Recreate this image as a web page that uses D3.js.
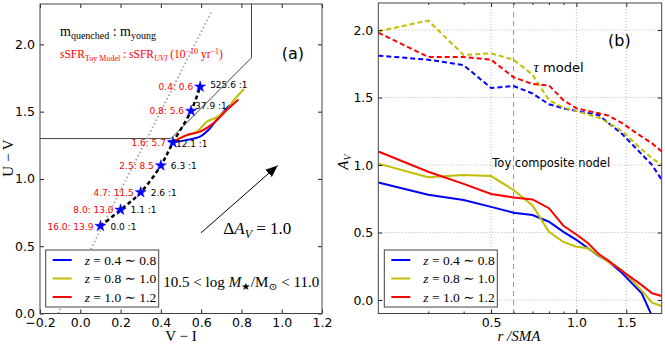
<!DOCTYPE html>
<html>
<head>
<meta charset="utf-8">
<script src="https://cdn.jsdelivr.net/npm/d3@7"></script>
<style>
  body { margin: 0; background: #fff; }
  svg { display: block; }
  .tick text { font-family: "DejaVu Sans", sans-serif; font-size: 12.5px; fill: #000; }
  .serif { font-family: "Liberation Serif", "DejaVu Serif", serif; }
  .sans { font-family: "DejaVu Sans", sans-serif; }
</style>
</head>
<body>
<div id="chart"></div>
<script>
// ---- panel (a) data: toy model track in the UVI plane
var viStar = [0.10, 0.20, 0.30, 0.40, 0.46, 0.55, 0.595];
var uvStar = [0.65, 0.77, 0.90, 1.10, 1.27, 1.505, 1.685];
var sfrText = ["16.0: 13.9", "8.0: 13.0", "4.7: 11.5", "2.5: 8.5", "1.6: 5.7", "0.8: 5.6", "0.4: 0.6"];
var ratioText = ["0.0 :1", "1.1 :1", "2.6 :1", "6.3 :1", "12.1 :1", "37.9 :1", "525.6 :1"];

// observed stacked tracks
var viBlue = [0.437, 0.475, 0.528, 0.594, 0.636, 0.677, 0.719, 0.743];
var uvBlue = [1.282, 1.276, 1.289, 1.314, 1.363, 1.438, 1.512, 1.549];
var viYellow = [0.454, 0.52, 0.578, 0.628, 0.677, 0.727, 0.76, 0.813];
var uvYellow = [1.276, 1.319, 1.351, 1.425, 1.458, 1.512, 1.581, 1.668];
var viRed = [0.454, 0.528, 0.594, 0.66, 0.727, 0.785];
var uvRed = [1.269, 1.326, 1.351, 1.413, 1.512, 1.591];

// quiescent selection box and the grey dotted line
var boxVI = [-0.2, 0.45, 0.85, 0.85];
var boxUV = [1.3, 1.3, 1.9, 2.3];
var dotVI = [-0.11, 0.65];
var dotUV = [0.0, 2.24];
// dust vector
var arrowVI = [0.6, 0.98];
var arrowUV = [0.6, 1.1];

// ---- panel (b) data: A_V profiles
var rSMA = [0.2, 0.3, 0.4, 0.5, 0.6, 0.7, 0.8, 0.9, 1.0, 1.1, 1.2, 1.3, 1.45, 1.7, 1.85, 2.0];
var tauBlue   = [1.81, 1.78, 1.74, 1.57, 1.585, 1.53, 1.45, 1.42, 1.40, 1.385, 1.37, 1.31, 1.23, 1.08, 1.0, 0.89];
var tauYellow = [1.99, 2.07, 1.815, 1.827, 1.78, 1.67, 1.48, 1.425, 1.40, 1.375, 1.35, 1.31, 1.25, 1.115, 1.05, 1.0];
var tauRed    = [1.98, 1.80, 1.80, 1.78, 1.65, 1.60, 1.59, 1.48, 1.42, 1.40, 1.383, 1.365, 1.31, 1.21, 1.16, 1.10];
var toyBlue   = [0.87, 0.78, 0.74, 0.69, 0.647, 0.63, 0.58, 0.505, 0.445, 0.383, 0.326, 0.284, 0.2, 0.05, -0.12, -0.3];
var toyYellow = [1.01, 0.91, 0.925, 0.918, 0.815, 0.70, 0.505, 0.43, 0.395, 0.383, 0.33, 0.28, 0.22, 0.07, -0.02, -0.045];
var toyRed    = [1.10, 0.95, 0.86, 0.785, 0.76, 0.745, 0.68, 0.55, 0.485, 0.42, 0.34, 0.29, 0.215, 0.11, 0.05, 0.03];
var psfR = 0.6;

var zBins = ["0.4", "0.8", "0.8", "1.0", "1.0", "1.2"];
var colors = ["#0000ff", "#bfbf00", "#ff0000"];

var W = 665, H = 347;
var svg = d3.select("#chart").append("svg").attr("width", W).attr("height", H);

function zip(a, b) { return a.map(function(v, i) { return [v, b[i]]; }); }

// ---------------- panel (a) ----------------
var xA = d3.scaleLinear().domain([-0.2, 1.2]).range([40, 322]);
var yA = d3.scaleLinear().domain([0, 2.3]).range([313.5, 4]);
var lineA = d3.line().x(function(d) { return xA(d[0]); }).y(function(d) { return yA(d[1]); });

svg.append("clipPath").attr("id", "clipA").append("rect")
  .attr("x", 40).attr("y", 4).attr("width", 282).attr("height", 309.5);
var gA = svg.append("g").attr("clip-path", "url(#clipA)");

gA.append("path").attr("d", lineA(zip(boxVI, boxUV)))
  .attr("fill", "none").attr("stroke", "#444").attr("stroke-width", 1);
gA.append("path").attr("d", lineA(zip(dotVI, dotUV)))
  .attr("fill", "none").attr("stroke", "#aaa").attr("stroke-width", 2).attr("stroke-dasharray", "1.5,2.5");

[[viBlue, uvBlue], [viYellow, uvYellow], [viRed, uvRed]].forEach(function(s, i) {
  gA.append("path").attr("d", lineA.curve(d3.curveCatmullRom)(zip(s[0], s[1])))
    .attr("fill", "none").attr("stroke", colors[i]).attr("stroke-width", 2);
});

gA.append("path").attr("d", lineA.curve(d3.curveCatmullRom)(zip(viStar, uvStar)))
  .attr("fill", "none").attr("stroke", "#000").attr("stroke-width", 2.5).attr("stroke-dasharray", "4,3");
lineA.curve(d3.curveLinear);

gA.selectAll(".star").data(zip(viStar, uvStar)).enter().append("path")
  .attr("class", "star")
  .attr("transform", function(d) { return "translate(" + xA(d[0]) + "," + yA(d[1]) + ")"; })
  .attr("d", d3.symbol(d3.symbolStar, 38))
  .attr("fill", "#0000ff").attr("stroke", "#0000ff").attr("stroke-width", 0.5);

var ratioDx = [10, 10, 10, 10, 3, 4, 10];
var ratioDy = [0, 0, 0, 0, 1, -5, -2];
gA.selectAll(".sfr").data(sfrText).enter().append("text")
  .attr("class", "sans")
  .attr("x", function(d, i) { return xA(viStar[i]) - 7; })
  .attr("y", function(d, i) { return yA(uvStar[i]) + 3.5; })
  .attr("text-anchor", "end").attr("font-size", 9).attr("fill", "#ff0000")
  .text(function(d) { return d; });
gA.selectAll(".ratio").data(ratioText).enter().append("text")
  .attr("class", "sans")
  .attr("x", function(d, i) { return xA(viStar[i]) + ratioDx[i]; })
  .attr("y", function(d, i) { return yA(uvStar[i]) + 3.5 + ratioDy[i]; })
  .attr("font-size", 9).attr("fill", "#000")
  .text(function(d) { return d; });

// dust arrow
svg.append("defs").append("marker").attr("id", "head")
  .attr("viewBox", "0 0 10 10").attr("refX", 10).attr("refY", 5)
  .attr("markerWidth", 12).attr("markerHeight", 12).attr("markerUnits", "userSpaceOnUse")
  .attr("orient", "auto")
  .append("path").attr("d", "M0,1 L10,5 L0,9 Z").attr("fill", "#000");
gA.append("path").attr("d", lineA(zip(arrowVI, arrowUV)))
  .attr("stroke", "#000").attr("stroke-width", 1).attr("marker-end", "url(#head)");

var tDust = svg.append("text").attr("class", "serif").attr("x", xA(0.71)).attr("y", yA(0.59)).attr("font-size", 17);
tDust.append("tspan").text("Δ");
tDust.append("tspan").attr("font-style", "italic").text("A");
tDust.append("tspan").attr("font-style", "italic").attr("font-size", 12).attr("dy", 4).text("V");
tDust.append("tspan").attr("dy", -4).text(" = 1.0");

var tMass = svg.append("text").attr("class", "serif").attr("x", xA(0.412)).attr("y", yA(0.197)).attr("font-size", 14)
  .attr("textLength", 156).attr("lengthAdjust", "spacingAndGlyphs");
tMass.append("tspan").text("10.5 < log ");
tMass.append("tspan").attr("font-style", "italic").text("M");
tMass.append("tspan").attr("font-size", 10).attr("dy", 3).text("★");
tMass.append("tspan").attr("dy", -3).text("/M");
tMass.append("tspan").attr("font-size", 10).attr("dy", 3).text("⊙");
tMass.append("tspan").attr("dy", -3).text(" < 11.0");

svg.append("text").attr("class", "sans").attr("x", xA(1.0)).attr("y", yA(1.89)).attr("font-size", 16).text("(a)");

var tQ = svg.append("text").attr("class", "serif").attr("x", 60).attr("y", 36).attr("font-size", 14);
tQ.append("tspan").text("m");
tQ.append("tspan").attr("font-size", 10).attr("dy", 3).text("quenched");
tQ.append("tspan").attr("dy", -3).text(" : m");
tQ.append("tspan").attr("font-size", 10).attr("dy", 3).text("young");

var tS = svg.append("text").attr("class", "serif").attr("x", 60).attr("y", 58).attr("font-size", 11.5).attr("fill", "#ff0000");
tS.append("tspan").text("sSFR");
tS.append("tspan").attr("font-size", 8).attr("dy", 2.5).text("Toy Model");
tS.append("tspan").attr("dy", -2.5).text(" : sSFR");
tS.append("tspan").attr("font-size", 8).attr("font-style", "italic").attr("dy", 2.5).text("UVI");
tS.append("tspan").attr("dy", -2.5).text(" (10");
tS.append("tspan").attr("font-size", 8).attr("dy", -4).text("−10");
tS.append("tspan").attr("dy", 4).text(" yr");
tS.append("tspan").attr("font-size", 8).attr("dy", -4).text("−1");
tS.append("tspan").attr("dy", 4).text(")");

// axes a
function drawAxes(x, y, xt, yt, fmtX, minorX) {
  var x0 = x.range()[0], x1 = x.range()[1], y0 = y.range()[0], y1 = y.range()[1];
  var bottom = svg.append("g").attr("transform", "translate(0," + y0 + ")")
    .call(d3.axisBottom(x).tickValues(xt).tickFormat(fmtX).tickSize(-4).tickPadding(5));
  svg.append("g").attr("transform", "translate(0," + y1 + ")")
    .call(d3.axisTop(x).tickValues(xt).tickFormat("").tickSize(-4));
  svg.append("g").attr("transform", "translate(" + x0 + ",0)")
    .call(d3.axisLeft(y).tickValues(yt).tickFormat(d3.format(".1f")).tickSize(-4).tickPadding(5));
  svg.append("g").attr("transform", "translate(" + x1 + ",0)")
    .call(d3.axisRight(y).tickValues(yt).tickFormat("").tickSize(-4));
  if (minorX) {
    svg.append("g").attr("transform", "translate(0," + y0 + ")")
      .call(d3.axisBottom(x).tickValues(minorX).tickFormat("").tickSize(-2));
    svg.append("g").attr("transform", "translate(0," + y1 + ")")
      .call(d3.axisTop(x).tickValues(minorX).tickFormat("").tickSize(-2));
  }
  svg.selectAll(".domain").remove();
  svg.selectAll(".tick line").attr("stroke", "#222");
  svg.append("rect").attr("x", x0).attr("y", y1).attr("width", x1 - x0).attr("height", y0 - y1)
    .attr("fill", "none").attr("stroke", "#444").attr("stroke-width", 1);
}

function legend(x0, y0) {
  var g = svg.append("g");
  g.append("rect").attr("x", x0).attr("y", y0).attr("width", 113).attr("height", 57)
    .attr("fill", "#fff").attr("stroke", "#444").attr("stroke-width", 1);
  colors.forEach(function(c, i) {
    var yy = y0 + 10 + i * 18.5;
    g.append("line").attr("x1", x0 + 7).attr("x2", x0 + 26).attr("y1", yy).attr("y2", yy)
      .attr("stroke", c).attr("stroke-width", 2);
    var t = g.append("text").attr("class", "serif").attr("x", x0 + 39).attr("y", yy + 4.5).attr("font-size", 13.5);
    t.append("tspan").attr("font-style", "italic").text("z");
    t.append("tspan").text(" = " + zBins[2 * i] + " ∼ " + zBins[2 * i + 1]);
  });
}

drawAxes(xA, yA, d3.range(-0.2, 1.21, 0.2), [0, 0.5, 1.0, 1.5, 2.0], d3.format(".1f"));
legend(45.7, 250);

svg.append("text").attr("class", "serif").attr("x", 181).attr("y", 341).attr("text-anchor", "middle")
  .attr("font-size", 15).text("V − I");
svg.append("text").attr("class", "serif").attr("transform", "translate(13,158) rotate(-90)")
  .attr("text-anchor", "middle").attr("font-size", 15).text("U − V");

// ---------------- panel (b) ----------------
var xB = d3.scaleLog().domain([0.2, 2.0]).range([378.3, 661.7]);
var yB = d3.scaleLinear().domain([-0.1, 2.2]).range([313.5, 3]);
var lineB = d3.line().x(function(d) { return xB(d[0]); }).y(function(d) { return yB(d[1]); });

svg.append("clipPath").attr("id", "clipB").append("rect")
  .attr("x", 378.3).attr("y", 3).attr("width", 283.4).attr("height", 310.5);
var gB = svg.append("g").attr("clip-path", "url(#clipB)");

// grid
[0, 0.5, 1.0, 1.5, 2.0].forEach(function(v) {
  gB.append("line").attr("x1", 378.3).attr("x2", 661.7).attr("y1", yB(v)).attr("y2", yB(v))
    .attr("stroke", "#999").attr("stroke-width", 0.7).attr("stroke-dasharray", "1,2");
});
[0.5, 1.0, 1.5].forEach(function(v) {
  gB.append("line").attr("x1", xB(v)).attr("x2", xB(v)).attr("y1", 3).attr("y2", 313.5)
    .attr("stroke", "#999").attr("stroke-width", 0.7).attr("stroke-dasharray", "1,2");
});
gB.append("line").attr("x1", xB(psfR)).attr("x2", xB(psfR)).attr("y1", 3).attr("y2", 313.5)
  .attr("stroke", "#999").attr("stroke-width", 1).attr("stroke-dasharray", "5,4");

[tauBlue, tauYellow, tauRed].forEach(function(s, i) {
  gB.append("path").attr("d", lineB(zip(rSMA, s)))
    .attr("fill", "none").attr("stroke", colors[i]).attr("stroke-width", 2).attr("stroke-dasharray", "5,3");
});
[toyBlue, toyYellow, toyRed].forEach(function(s, i) {
  gB.append("path").attr("d", lineB(zip(rSMA, s)))
    .attr("fill", "none").attr("stroke", colors[i]).attr("stroke-width", 2);
});

drawAxes(xB, yB, [0.5, 1.0, 1.5], [0, 0.5, 1.0, 1.5, 2.0], d3.format(".1f"), [0.3, 0.4, 0.6, 0.7, 0.8, 0.9]);
legend(384.3, 250);

svg.append("text").attr("class", "sans").attr("x", 608).attr("y", yB(1.926) + 6).attr("font-size", 16).text("(b)");
var tTau = svg.append("text").attr("x", xB(0.706)).attr("y", yB(1.726) + 5).attr("font-size", 13);
tTau.append("tspan").attr("class", "serif").attr("font-style", "italic").attr("font-size", 15).text("τ");
tTau.append("tspan").attr("class", "sans").text("  model");
svg.append("text").attr("class", "sans").attr("x", xB(0.505)).attr("y", yB(1.015) + 4.5).attr("font-size", 11.5)
  .text("Toy composite nodel");

var tR = svg.append("text").attr("class", "serif").attr("x", 519).attr("y", 341).attr("text-anchor", "middle")
  .attr("font-size", 15).attr("font-style", "italic");
tR.text("r /SMA");
var tAv = svg.append("text").attr("class", "serif").attr("transform", "translate(348,162) rotate(-90)")
  .attr("text-anchor", "middle").attr("font-size", 15);
tAv.append("tspan").attr("font-style", "italic").text("A");
tAv.append("tspan").attr("font-style", "italic").attr("font-size", 10).attr("dy", 3).text("V");
</script>
</body>
</html>
